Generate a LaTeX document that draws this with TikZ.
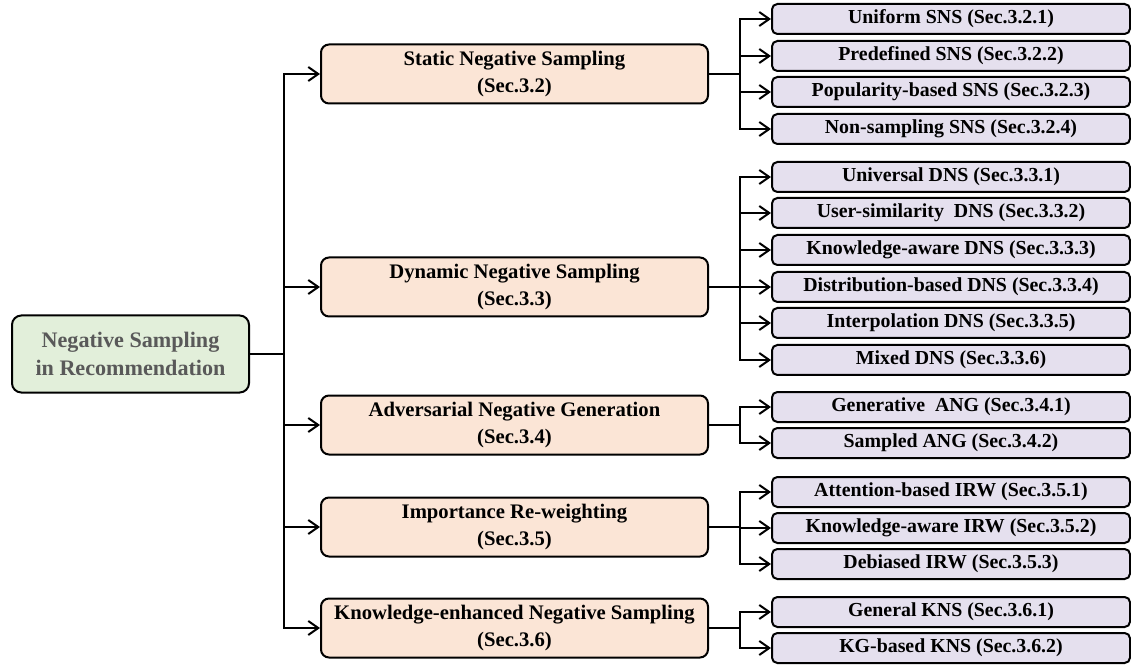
\documentclass[tikz,border=0pt]{standalone}
\usepackage{fontspec}
\setmainfont{Liberation Serif}
\usetikzlibrary{arrows.meta}
\definecolor{rootfill}{HTML}{E2EFDA}
\definecolor{roottext}{HTML}{595959}
\definecolor{midfill}{HTML}{FBE5D6}
\definecolor{leaffill}{HTML}{E5E0EE}
\begin{document}
\begin{tikzpicture}[x=0.75pt,y=-0.75pt,
  box/.style={draw=black, line width=1.5pt, inner sep=0pt, align=center},
  rootbox/.style={box, fill=rootfill, text=roottext, minimum width=177.75pt, minimum height=57.75pt, rounded corners=7pt, font=\fontsize{16.6}{20.5}\selectfont\bfseries},
  midbox/.style={box, fill=midfill, minimum width=290.25pt, minimum height=44.25pt, rounded corners=6pt, font=\fontsize{15.5}{20.5}\selectfont\bfseries},
  leafbox/.style={box, fill=leaffill, minimum width=268.5pt, minimum height=22.5pt, rounded corners=4pt, font=\fontsize{14.9}{18}\selectfont\bfseries},
  conn/.style={line width=1.5pt},
  arr/.style={conn, -{Straight Barb[length=7.5pt,width=10.5pt]}}
]
\useasboundingbox (0,0) rectangle (1131,666);

% root
\node[rootbox] (root) at (130.5,354) {Negative Sampling\\in Recommendation};

% middle level
\node[midbox] (m1) at (514.5,74)  {Static Negative Sampling\\(Sec.3.2)};
\node[midbox] (m2) at (514.5,287) {Dynamic Negative Sampling\\(Sec.3.3)};
\node[midbox] (m3) at (514.5,425) {Adversarial Negative Generation\\(Sec.3.4)};
\node[midbox] (m4) at (514.5,527) {Importance Re-weighting\\(Sec.3.5)};
\node[midbox] (m5) at (514.5,628) {Knowledge-enhanced Negative Sampling\\(Sec.3.6)};

% leaves
\node[leafbox] (l11) at (951,19)  {Uniform SNS (Sec.3.2.1)};
\node[leafbox] (l12) at (951,56)  {Predefined SNS (Sec.3.2.2)};
\node[leafbox] (l13) at (951,92)  {Popularity-based SNS (Sec.3.2.3)};
\node[leafbox] (l14) at (951,129) {Non-sampling SNS (Sec.3.2.4)};

\node[leafbox] (l21) at (951,177) {Universal DNS (Sec.3.3.1)};
\node[leafbox] (l22) at (951,213) {User-similarity\ \ DNS (Sec.3.3.2)};
\node[leafbox] (l23) at (951,250) {Knowledge-aware DNS (Sec.3.3.3)};
\node[leafbox] (l24) at (951,287) {Distribution-based DNS (Sec.3.3.4)};
\node[leafbox] (l25) at (951,323) {Interpolation DNS (Sec.3.3.5)};
\node[leafbox] (l26) at (951,360) {Mixed DNS (Sec.3.3.6)};

\node[leafbox] (l31) at (951,407) {Generative\ \ ANG (Sec.3.4.1)};
\node[leafbox] (l32) at (951,443) {Sampled ANG (Sec.3.4.2)};

\node[leafbox] (l41) at (951,492) {Attention-based IRW (Sec.3.5.1)};
\node[leafbox] (l42) at (951,528) {Knowledge-aware IRW (Sec.3.5.2)};
\node[leafbox] (l43) at (951,564) {Debiased IRW (Sec.3.5.3)};

\node[leafbox] (l51) at (951,612) {General KNS (Sec.3.6.1)};
\node[leafbox] (l52) at (951,648) {KG-based KNS (Sec.3.6.2)};

% trunk from root
\coordinate (t) at (284,354);
\draw[conn] (root.east) -- (t);
\foreach \m in {m1,m2,m3,m4,m5}
  \draw[arr] (t) |- (\m.west);

% branches to leaves
\coordinate (b1) at (740,74);
\coordinate (b2) at (740,287);
\coordinate (b3) at (740,425);
\coordinate (b4) at (740,527);
\coordinate (b5) at (740,628);
\draw[conn] (m1.east) -- (b1);
\draw[conn] (m2.east) -- (b2);
\draw[conn] (m3.east) -- (b3);
\draw[conn] (m4.east) -- (b4);
\draw[conn] (m5.east) -- (b5);
\foreach \l in {l11,l12,l13,l14} \draw[arr] (b1) |- (\l.west);
\foreach \l in {l21,l22,l23,l24,l25,l26} \draw[arr] (b2) |- (\l.west);
\foreach \l in {l31,l32} \draw[arr] (b3) |- (\l.west);
\foreach \l in {l41,l42,l43} \draw[arr] (b4) |- (\l.west);
\foreach \l in {l51,l52} \draw[arr] (b5) |- (\l.west);
\end{tikzpicture}
\end{document}
